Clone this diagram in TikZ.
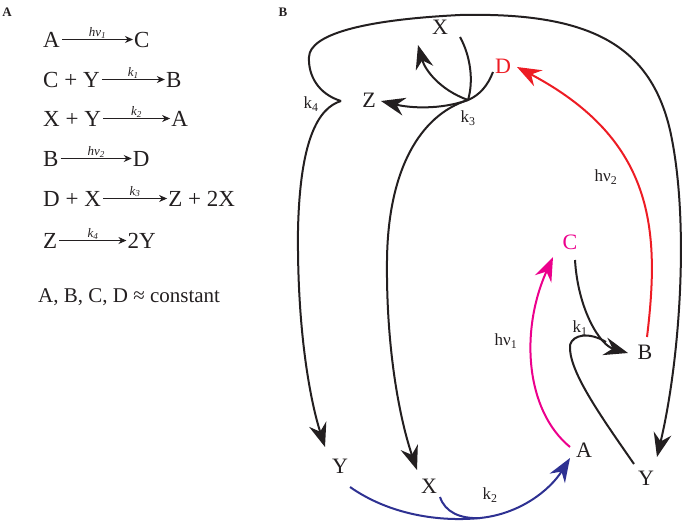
\documentclass[tikz,border=0pt]{standalone}
\usepackage{fontspec}
\setmainfont{Liberation Serif}
\usetikzlibrary{arrows.meta,calc}
\definecolor{redD}{RGB}{237,28,36}
\definecolor{magC}{RGB}{236,0,140}
\definecolor{blueA}{RGB}{46,49,146}
\definecolor{ink}{RGB}{35,31,32}
\begin{document}
\begin{tikzpicture}[x=1pt,y=-1pt,
 lbl/.style={font=\fontsize{22}{24}\selectfont, inner sep=1pt, text=ink},
 klbl/.style={font=\fontsize{17}{19}\selectfont, inner sep=0pt, text=ink},
 eq/.style={font=\fontsize{23}{25}\selectfont, inner sep=0pt, anchor=base west, text=ink},
 eqlab/.style={font=\fontsize{13}{14}\selectfont\itshape, inner sep=1pt, above, text=ink},
 eqarr/.style={draw=ink, line width=0.9pt, -{Stealth[length=8pt,width=7pt]}},
 flow/.style={draw=ink, line width=2pt, -{Stealth[length=24pt,width=18pt,inset=8pt]}},
 flowplain/.style={draw=ink, line width=2pt},
 panel/.style={font=\fontsize{13}{14}\selectfont\bfseries, inner sep=0pt, text=ink}]
\useasboundingbox (0,0) rectangle (685,520);

% ---------- Panel A ----------
\node[panel] (pA) at (7,12) {A};
\node[eq] (l1) at (43,47) {A};
\node[eq] (r1) at ($(l1.base east)+(74,0)$) {C};
\node[eq] (l2) at (43,87) {C + Y};
\node[eq] (r2) at ($(l2.base east)+(66,0)$) {B};
\node[eq] (l3) at (43,126) {X + Y};
\node[eq] (r3) at ($(l3.base east)+(70,0)$) {A};
\node[eq] (l4) at (43,166) {B};
\node[eq] (r4) at ($(l4.base east)+(74,0)$) {D};
\node[eq] (l5) at (43,206) {D + X};
\node[eq] (r5) at ($(l5.base east)+(67,0)$) {Z + 2X};
\node[eq] (l6) at (43,248) {Z};
\node[eq] (r6) at ($(l6.base east)+(70,0)$) {2Y};
\foreach \i/\t in {1/{hν\textsubscript{1}},2/{k\textsubscript{1}},3/{k\textsubscript{2}},4/{hν\textsubscript{2}},5/{k\textsubscript{3}},6/{k\textsubscript{4}}}{
  \draw[eqarr] ([xshift=2pt,yshift=7.5pt]l\i.base east) -- ([xshift=-1pt,yshift=7.5pt]r\i.base west)
    node[eqlab, midway] {\t};
}
\node[anchor=base west, font=\fontsize{21}{23}\selectfont, inner sep=0pt, text=ink] (cst) at (38,302) {A, B, C, D ≈ constant};

% ---------- Panel B ----------
\node[panel] (pB) at (283,12) {B};
\node[lbl] (Xt) at (440,27) {X};
\node[lbl, text=redD] (D) at (503,66) {D};
\node[lbl] (Z) at (369,100) {Z};
\node[klbl] (k4) at (311,104) {k\textsubscript{4}};
\node[klbl] (k3) at (468,118) {k\textsubscript{3}};
\node[klbl] (hv2) at (606,177) {hν\textsubscript{2}};
\node[lbl, text=magC] (C) at (570,242) {C};
\node[klbl] (k1) at (580,328) {k\textsubscript{1}};
\node[lbl] (B) at (645,352) {B};
\node[klbl] (hv1) at (506,341) {hν\textsubscript{1}};
\node[lbl] (A) at (584,450) {A};
\node[lbl] (Yr) at (646,478) {Y};
\node[lbl] (Yl) at (340,466) {Y};
\node[lbl] (Xb) at (429,486) {X};
\node[klbl] (k2) at (490,495) {k\textsubscript{2}};

\coordinate (J) at (468,100);
\coordinate (K4) at (341,101);
\coordinate (Mb) at (480,518);
\coordinate (Mk) at (606,342);

% Z -> 2Y (k4): big loop to right Y, and branch to left Y
\draw[flow] (K4) .. controls (318,94) and (308,75) .. (309,57)
  .. controls (310,35) and (360,20) .. (460,15)
  .. controls (590,12) and (650,45) .. (670,130)
  .. controls (690,220) and (680,360) .. ([shift={(11,-21)}]Yr.center);
\draw[flow] (K4) .. controls (318,108) and (300,140) .. (298,230)
  .. controls (297,330) and (310,400) .. ([shift={(-15,-19)}]Yl.center);

% D + X -> Z + 2X (k3)
\draw[flowplain] ([shift={(20,10)}]Xt.center) .. controls (470,55) and (474,80) .. (J);
\draw[flowplain] ([shift={(-10,6)}]D.center) .. controls (488,85) and (480,95) .. (J);
\draw[flow] (J) .. controls (440,90) and (425,70) .. ([shift={(-22,18)}]Xt.center);
\draw[flow] (J) .. controls (440,110) and (410,108) .. ([shift={(12,1)}]Z.center);
\draw[flow] (J) .. controls (420,115) and (388,170) .. (387,260)
  .. controls (386,350) and (400,420) .. ([shift={(-12,-16)}]Xb.center);

% B -> D (h nu 2)
\draw[flow, draw=redD] ([shift={(2,-15)}]B.center) .. controls (660,230) and (655,140) .. ([shift={(14,1)}]D.center);

% A -> C (h nu 1)
\draw[flow, draw=magC] ([shift={(-14,-3)}]A.center) .. controls (525,410) and (520,330) .. ([shift={(-17,15)}]C.center);

% C + Y -> B (k1)
\draw[flow] ([shift={(5,18)}]C.center) .. controls (578,310) and (600,345) .. ([shift={(-17,1)}]B.center);
\draw[flowplain] ([shift={(-12,-14)}]Yr.center) .. controls (600,415) and (568,370) .. (570,345)
  .. controls (573,334) and (590,332) .. (Mk);

% X + Y -> A (k2)
\draw[flow, draw=blueA] ([shift={(10,21)}]Yl.center) .. controls (390,515) and (440,522) .. (Mb)
  .. controls (520,514) and (550,490) .. ([shift={(-14,8)}]A.center);
\draw[flowplain, draw=blueA] ([shift={(11,11)}]Xb.center) .. controls (445,512) and (460,519) .. (Mb);
\end{tikzpicture}
\end{document}
